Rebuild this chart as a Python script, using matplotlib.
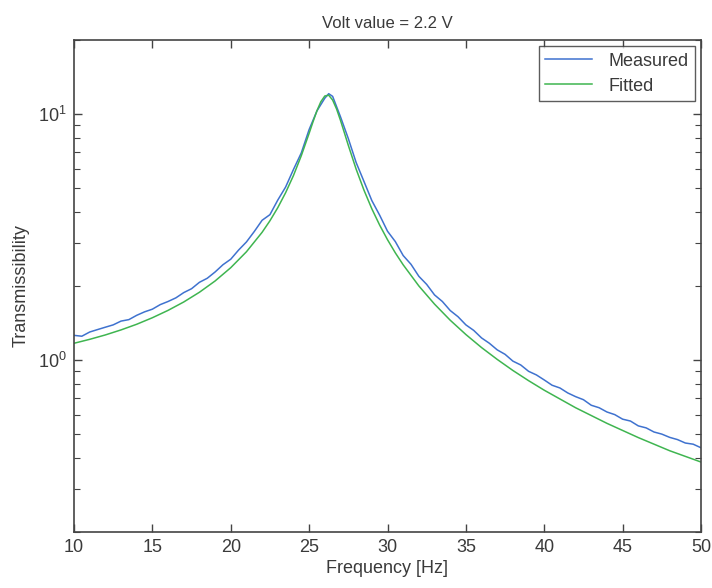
import matplotlib
matplotlib.use("Agg")
import matplotlib.pyplot as plt
from matplotlib.ticker import LogLocator, NullFormatter

# ---- data ----
freq_fit = [10, 11, 12, 13, 14, 15, 16, 17, 18, 19, 20, 21, 22, 22.5, 23, 23.5,
            24, 24.5, 25, 25.25, 25.5, 25.75, 26, 26.25, 26.5, 26.75, 27, 27.25,
            27.5, 28, 28.5, 29, 29.5, 30, 30.5, 31, 32, 33, 34, 35, 36, 37, 38,
            39, 40, 42, 44, 46, 48, 50]
fitted = [1.170, 1.214, 1.265, 1.326, 1.398, 1.486, 1.592, 1.722, 1.886, 2.096,
          2.374, 2.755, 3.306, 3.683, 4.163, 4.789, 5.623, 6.772, 8.351, 9.31,
          10.32, 11.23, 11.84, 11.93, 11.40, 10.49, 9.43, 8.39, 7.46, 5.97,
          4.903, 4.12, 3.536, 3.085, 2.727, 2.439, 2.001, 1.688, 1.452, 1.270,
          1.124, 1.006, 0.907, 0.8246, 0.754, 0.640, 0.553, 0.484, 0.428, 0.385]

freq_meas = [10, 10.5, 11, 11.5, 12, 12.5, 13, 13.5, 14, 14.5, 15, 15.5, 16, 16.5,
             17, 17.5, 18, 18.5, 19, 19.5, 20, 20.5, 21, 21.5, 22, 22.5, 23, 23.5,
             24, 24.5, 25, 25.5, 26, 26.25, 26.5, 27, 27.5, 28, 28.5, 29, 29.5, 30,
             30.5, 31, 31.5, 32, 32.5, 33, 33.5, 34, 34.5, 35, 35.5, 36, 36.5, 37,
             37.5, 38, 38.5, 39, 39.5, 40, 40.5, 41, 41.5, 42, 42.5, 43, 43.5, 44,
             44.5, 45, 45.5, 46, 46.5, 47, 47.5, 48, 48.5, 49, 49.5, 50]
measured = [1.26, 1.25, 1.30, 1.33, 1.36, 1.39, 1.44, 1.46, 1.52, 1.57, 1.61, 1.68,
            1.73, 1.79, 1.88, 1.95, 2.07, 2.15, 2.28, 2.44, 2.57, 2.80, 3.02, 3.33,
            3.70, 3.90, 4.47, 5.05, 5.95, 6.95, 8.65, 10.3, 11.6, 12.1, 11.8, 9.75,
            7.95, 6.35, 5.32, 4.45, 3.88, 3.34, 3.03, 2.66, 2.45, 2.19, 2.03, 1.84,
            1.73, 1.59, 1.50, 1.39, 1.32, 1.23, 1.17, 1.10, 1.055, 0.99, 0.955, 0.90,
            0.87, 0.83, 0.79, 0.77, 0.735, 0.71, 0.69, 0.655, 0.64, 0.615, 0.60,
            0.575, 0.565, 0.54, 0.53, 0.51, 0.50, 0.485, 0.475, 0.46, 0.455, 0.44]

x_ticks = [10, 15, 20, 25, 30, 35, 40, 45, 50]

# ---- figure ----
plt.rcParams['font.family'] = ['Liberation Sans', 'DejaVu Sans']
plt.rcParams['mathtext.default'] = 'regular'
txt = "#3a3a3a"
fig = plt.figure(figsize=(7.12, 5.88), dpi=100)
ax = fig.add_axes([74 / 712, 1 - 532 / 588, (701 - 74) / 712, (532 - 40) / 588])

ax.plot(freq_meas, measured, color="#3f72cf", lw=1.1, label="Measured")
ax.plot(freq_fit, fitted, color="#3fb550", lw=1.1, label="Fitted")

ax.set_yscale("log")
ax.set_xlim(10, 50)
ax.set_ylim(0.2, 20)
ax.set_xticks(x_ticks)
ax.set_xticklabels([str(t) for t in x_ticks])
ax.yaxis.set_major_locator(LogLocator(base=10, numticks=5))
ax.yaxis.set_minor_locator(LogLocator(base=10, subs=range(2, 10), numticks=20))
ax.yaxis.set_minor_formatter(NullFormatter())

ax.tick_params(which="both", direction="in", top=True, right=True,
               colors="#444444", labelcolor=txt, labelsize=13)
ax.tick_params(which="major", length=6, width=1, pad=5)
ax.tick_params(which="minor", length=4, width=0.8)
for s in ax.spines.values():
    s.set_color("#444444")
    s.set_linewidth(1.2)

ax.set_xlabel("Frequency [Hz]", fontsize=13, color=txt, labelpad=3)
ax.set_ylabel("Transmissibility", fontsize=13, color=txt, labelpad=6)
ax.set_title("Volt value = 2.2 V", fontsize=12, color=txt, pad=9)

leg = ax.legend(loc="upper right", fontsize=13, frameon=True, fancybox=False,
                borderaxespad=0.35, handlelength=2.6, labelspacing=0.45,
                borderpad=0.35, handletextpad=0.9)
leg.get_frame().set_edgecolor("#333333")
leg.get_frame().set_linewidth(1.0)
for t in leg.get_texts():
    t.set_color(txt)

fig.savefig("out.png", dpi=100)
